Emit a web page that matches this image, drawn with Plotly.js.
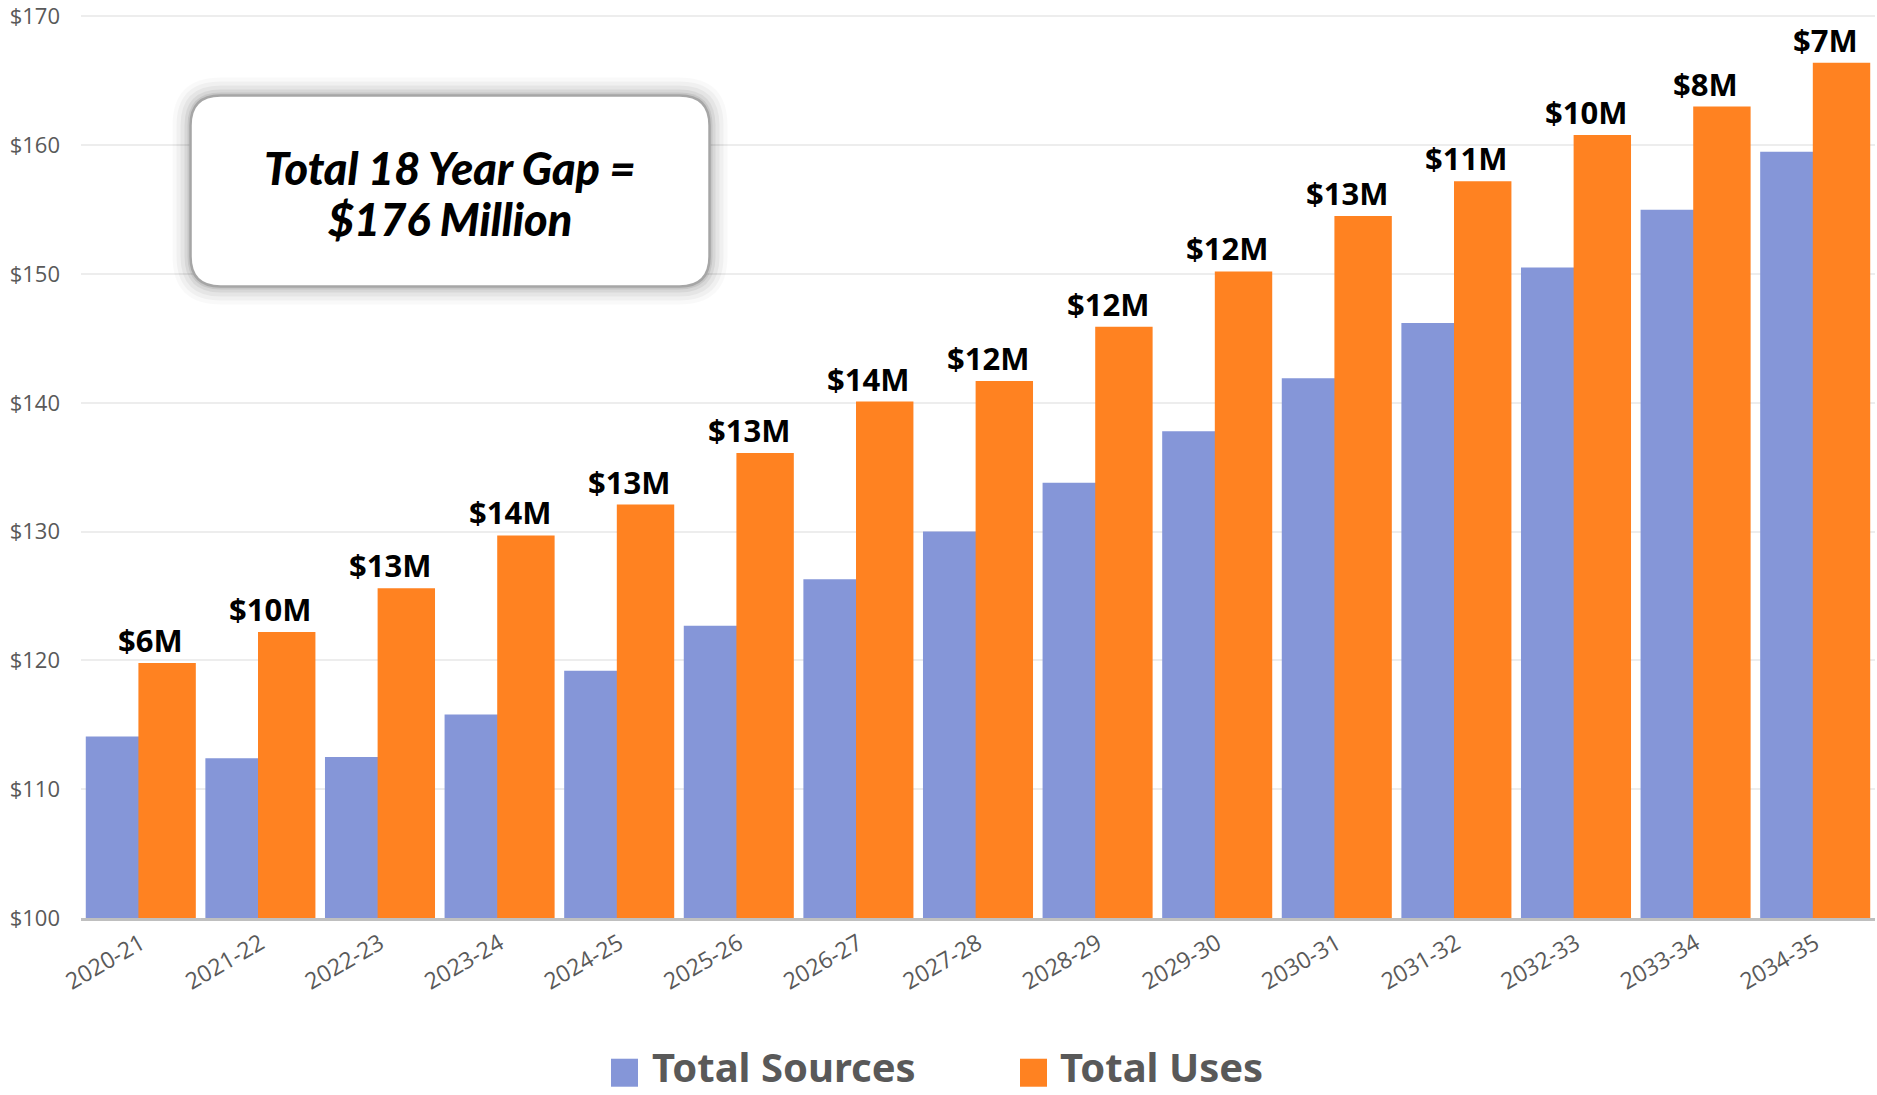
<!DOCTYPE html>
<html>
<head>
<meta charset="utf-8">
<script src="https://cdn.plot.ly/plotly-3.0.1.min.js"></script>
<style>html,body{margin:0;padding:0;background:#fff;}#chart{width:1877px;height:1095px;}</style>
</head>
<body>
<div id="chart"></div>
<script>
const categories = ['2020-21','2021-22','2022-23','2023-24','2024-25','2025-26','2026-27','2027-28','2028-29','2029-30','2030-31','2031-32','2032-33','2033-34','2034-35'];
const totalSources = [114.1,112.4,112.5,115.8,119.2,122.7,126.3,130.0,133.8,137.8,141.9,146.2,150.5,155.0,159.5];
const totalUses = [119.8,122.2,125.6,129.7,132.1,136.1,140.1,141.7,145.9,150.2,154.5,157.2,160.8,163.0,166.4];
const gapLabels = ['$6M','$10M','$13M','$14M','$13M','$13M','$14M','$12M','$12M','$12M','$13M','$11M','$10M','$8M','$7M'];
const yTickVals = [100,110,120,130,140,150,160,170];
const yTickText = ['$100','$110','$120','$130','$140','$150','$160','$170'];
const seriesNames = ['Total Sources','Total Uses'];
const calloutLines = ['Total 18 Year Gap =', '$176 Million'];

const BLUE = '#8596D8';
const ORANGE = '#FF8221';
const GRAY_TEXT = '#595959';

const traces = [
  {type:'bar', name:seriesNames[0], x:categories, y:totalSources,
   width:0.48, offset:-0.46, marker:{color:BLUE, line:{width:0}}, hoverinfo:'x+y'},
  {type:'bar', name:seriesNames[1], x:categories, y:totalUses,
   width:0.48, offset:-0.02, marker:{color:ORANGE, line:{width:0}}, hoverinfo:'x+y'}
];

const annotations = categories.map((c,i)=>({
  x:c, y:totalUses[i], xref:'x', yref:'y', text:gapLabels[i],
  showarrow:false, yanchor:'bottom', xanchor:'center', xshift:10, yshift:0,
  font:{family:'Noto Sans, Open Sans, sans-serif', size:31, color:'#000', weight:700}
}));

const cx = 0.2057, cy = 0.8007;
const calloutY = [0.826, 0.7698];
calloutLines.forEach((t,i)=>annotations.push({
  xref:'paper', yref:'paper', x:cx, y:calloutY[i], xanchor:'center', yanchor:'middle',
  text:t, showarrow:false,
  font:{family:'Lato, Noto Sans, sans-serif', size:45, color:'#000', weight:900, style:'italic'}
}));

const legY = -0.164;
annotations.push({xref:'paper', yref:'paper', x:(650-81)/1794, y:legY, xanchor:'left', yanchor:'middle',
  text:seriesNames[0], showarrow:false, font:{family:'Noto Sans, sans-serif', size:40, color:GRAY_TEXT, weight:700}});
annotations.push({xref:'paper', yref:'paper', x:(1058-81)/1794, y:legY, xanchor:'left', yanchor:'middle',
  text:seriesNames[1], showarrow:false, font:{family:'Noto Sans, sans-serif', size:40, color:GRAY_TEXT, weight:700}});

function roundRect(w,h,r){
  const x0=-w/2,x1=w/2,y0=-h/2,y1=h/2;
  return `M${x0+r},${y0} L${x1-r},${y0} Q${x1},${y0} ${x1},${y0+r} L${x1},${y1-r} Q${x1},${y1} ${x1-r},${y1} L${x0+r},${y1} Q${x0},${y1} ${x0},${y1-r} L${x0},${y0+r} Q${x0},${y0} ${x0+r},${y0} Z`;
}

const shapes = [];
[[36,0.025],[28,0.035],[20,0.045],[12,0.06],[6,0.08]].forEach(([g,a])=>{
  shapes.push({type:'path', xref:'paper', yref:'paper', xsizemode:'pixel', ysizemode:'pixel',
    xanchor:cx, yanchor:cy, path:roundRect(519+g,191+g,30+g/2),
    fillcolor:`rgba(0,0,0,${a})`, line:{width:0}, layer:'above'});
});
shapes.push({type:'path', xref:'paper', yref:'paper', xsizemode:'pixel', ysizemode:'pixel',
  xanchor:cx, yanchor:cy, path:roundRect(519,191,30),
  fillcolor:'#ffffff', line:{color:'#A6A6A6', width:2.5}, layer:'above'});

const legSqY = -0.1704;
shapes.push({type:'rect', xref:'paper', yref:'paper', xsizemode:'pixel', ysizemode:'pixel',
  xanchor:(611-81)/1794, yanchor:legSqY, x0:0, x1:27, y0:-14, y1:14, fillcolor:BLUE, line:{width:0}});
shapes.push({type:'rect', xref:'paper', yref:'paper', xsizemode:'pixel', ysizemode:'pixel',
  xanchor:(1020-81)/1794, yanchor:legSqY, x0:0, x1:27, y0:-14, y1:14, fillcolor:ORANGE, line:{width:0}});

const layout = {
  width:1877, height:1095,
  margin:{l:81, r:2, t:10, b:177},
  paper_bgcolor:'#fff', plot_bgcolor:'#fff',
  barmode:'overlay',
  showlegend:false,
  xaxis:{type:'category', range:[-0.5,14.5], tickangle:-30, showgrid:false,
    showline:true, linecolor:'#BFBFBF', linewidth:3, ticks:'',
    tickfont:{family:'Open Sans, sans-serif', size:23, color:GRAY_TEXT}, fixedrange:true},
  yaxis:{range:[100,170.5], tickvals:yTickVals, ticktext:yTickText, showgrid:true,
    gridcolor:'#EDEDED', gridwidth:2, zeroline:false, showline:false, ticks:'',
    ticklabelstandoff:20, ticklabeloverflow:'allow',
    tickfont:{family:'Open Sans, sans-serif', size:22, color:GRAY_TEXT}, fixedrange:true},
  annotations:annotations,
  shapes:shapes
};

Plotly.newPlot('chart', traces, layout, {displayModeBar:false, staticPlot:true});
</script>
</body>
</html>
